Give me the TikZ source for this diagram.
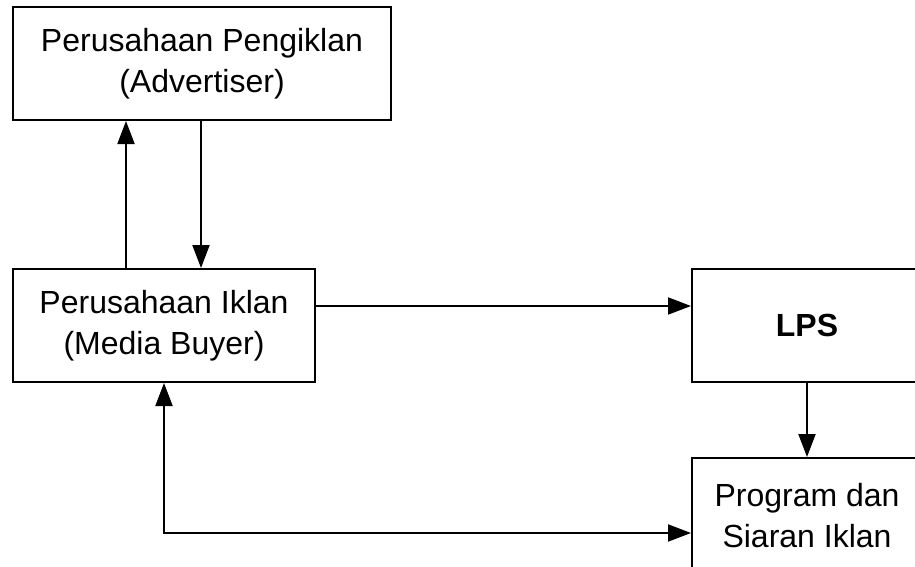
\documentclass[tikz,border=0pt]{standalone}
\usepackage{fontspec}
\setmainfont{Liberation Sans}
\usetikzlibrary{arrows.meta}
\usetikzlibrary{positioning}

\tikzset{
    blok/.style={draw, rectangle, line width=1pt, align=center,
        minimum height=56.5pt, font=\fontsize{16}{20.5}\selectfont},
    panah/.style={-{Triangle[length=11.5pt, width=8.5pt]}, line width=1pt},
}

\begin{document}
\begin{tikzpicture}[x=0.5pt, y=-0.5pt]
        \clip (0, 0) rectangle (915, 567);

        \node[blok, minimum width=189pt] (Adv) at (202, 63.5) {Perusahaan Pengiklan\\(Advertiser)};
        \node[blok, minimum width=151pt] (Buyer) at (164, 325.5) {Perusahaan Iklan\\(Media Buyer)};

        \node[blok, minimum width=115pt] (LPS) at (807, 325.5) {\textbf{LPS}};
        \node[blok, minimum width=115pt, minimum height=58pt] (Prog) at (807, 516) {Program dan\\Siaran Iklan};

        \draw[panah] (Buyer.north -| 126, 0) -- (Adv.south -| 126, 0);
        \draw[panah] (Adv.south -| 201, 0) -- (Buyer.north -| 201, 0);
        \draw[panah] (Buyer.east |- 0, 306) -- (LPS.west |- 0, 306);
        \draw[panah] (LPS) -- (Prog);

        \coordinate (Sudut) at (164, 533);
        \draw[panah, {Triangle[length=11.5pt, width=8.5pt]}-{Triangle[length=11.5pt, width=8.5pt]}]
            (Buyer.south) -- (Sudut) -- (Prog.west |- Sudut);
    \end{tikzpicture}
\end{document}
